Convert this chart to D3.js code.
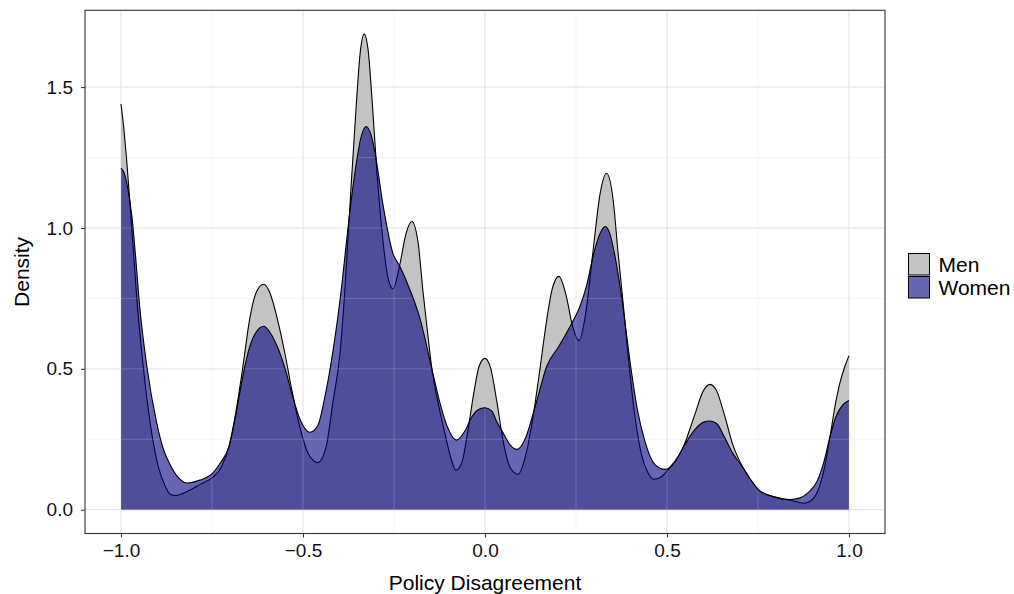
<!DOCTYPE html>
<html>
<head>
<meta charset="utf-8">
<script src="https://cdn.jsdelivr.net/npm/d3@7"></script>
<style>
  body { margin: 0; background: #fff; }
  svg { display: block; font-family: "Liberation Sans", Arial, Helvetica, sans-serif; }
</style>
</head>
<body>
<svg id="chart" width="1014" height="594"></svg>
<script>
// density estimates, policy disagreement on x
const menX = [-1.000, -0.992, -0.985, -0.975, -0.966, -0.957, -0.939, -0.920, -0.898, -0.879, -0.865, -0.850, -0.830, -0.810, -0.783, -0.748, -0.725, -0.703, -0.684, -0.666, -0.646, -0.629, -0.608, -0.591, -0.571, -0.549, -0.530, -0.508, -0.486, -0.459, -0.437, -0.418, -0.398, -0.385, -0.371, -0.354, -0.343, -0.332, -0.321, -0.310, -0.297, -0.280, -0.266, -0.253, -0.234, -0.217, -0.201, -0.184, -0.170, -0.157, -0.146, -0.129, -0.110, -0.093, -0.080, -0.063, -0.047, -0.030, -0.016, 0.000, 0.016, 0.033, 0.049, 0.069, 0.091, 0.113, 0.132, 0.151, 0.168, 0.184, 0.203, 0.223, 0.239, 0.258, 0.277, 0.297, 0.316, 0.334, 0.352, 0.365, 0.379, 0.393, 0.412, 0.431, 0.448, 0.464, 0.481, 0.508, 0.544, 0.577, 0.599, 0.618, 0.637, 0.657, 0.681, 0.709, 0.728, 0.755, 0.802, 0.846, 0.874, 0.893, 0.912, 0.931, 0.948, 0.962, 0.975, 0.989, 1.000];
const menY = [1.44, 1.35, 1.25, 1.08, 0.92, 0.757, 0.509, 0.309, 0.155, 0.085, 0.055, 0.05, 0.058, 0.07, 0.09, 0.115, 0.15, 0.226, 0.35, 0.50, 0.68, 0.77, 0.80, 0.77, 0.68, 0.55, 0.42, 0.29, 0.20, 0.167, 0.22, 0.38, 0.56, 0.78, 1.08, 1.43, 1.62, 1.688, 1.63, 1.45, 1.20, 0.95, 0.82, 0.784, 0.87, 0.98, 1.023, 0.95, 0.77, 0.62, 0.50, 0.38, 0.27, 0.18, 0.14, 0.17, 0.28, 0.42, 0.51, 0.537, 0.50, 0.38, 0.25, 0.15, 0.126, 0.20, 0.33, 0.50, 0.66, 0.78, 0.828, 0.76, 0.66, 0.60, 0.70, 0.92, 1.12, 1.194, 1.10, 0.92, 0.74, 0.55, 0.33, 0.19, 0.13, 0.108, 0.114, 0.15, 0.22, 0.34, 0.42, 0.445, 0.42, 0.34, 0.23, 0.149, 0.11, 0.067, 0.043, 0.032, 0.023, 0.03, 0.06, 0.14, 0.26, 0.37, 0.45, 0.51, 0.547];

const womenX = [-1.000, -0.990, -0.980, -0.970, -0.960, -0.950, -0.929, -0.902, -0.885, -0.865, -0.843, -0.819, -0.783, -0.748, -0.725, -0.703, -0.684, -0.666, -0.646, -0.629, -0.608, -0.591, -0.571, -0.549, -0.530, -0.508, -0.481, -0.459, -0.440, -0.418, -0.394, -0.376, -0.357, -0.341, -0.327, -0.313, -0.302, -0.280, -0.253, -0.234, -0.206, -0.179, -0.146, -0.124, -0.102, -0.078, -0.055, -0.036, -0.019, 0.000, 0.019, 0.033, 0.047, 0.069, 0.088, 0.110, 0.137, 0.170, 0.203, 0.234, 0.261, 0.280, 0.297, 0.316, 0.330, 0.343, 0.357, 0.376, 0.398, 0.418, 0.440, 0.467, 0.495, 0.522, 0.544, 0.577, 0.599, 0.618, 0.637, 0.657, 0.681, 0.709, 0.728, 0.755, 0.802, 0.838, 0.865, 0.887, 0.912, 0.931, 0.948, 0.964, 0.984, 1.000];
const womenY = [1.212, 1.19, 1.13, 1.04, 0.90, 0.74, 0.509, 0.309, 0.22, 0.16, 0.115, 0.095, 0.105, 0.13, 0.17, 0.226, 0.34, 0.47, 0.58, 0.63, 0.651, 0.63, 0.58, 0.50, 0.41, 0.32, 0.275, 0.30, 0.40, 0.56, 0.79, 1.005, 1.20, 1.32, 1.36, 1.33, 1.266, 1.08, 0.91, 0.864, 0.78, 0.68, 0.50, 0.38, 0.29, 0.247, 0.28, 0.33, 0.355, 0.362, 0.35, 0.31, 0.279, 0.23, 0.214, 0.25, 0.362, 0.51, 0.58, 0.651, 0.722, 0.80, 0.90, 0.98, 1.005, 0.98, 0.90, 0.75, 0.53, 0.36, 0.24, 0.16, 0.143, 0.17, 0.22, 0.285, 0.31, 0.315, 0.305, 0.26, 0.20, 0.149, 0.11, 0.067, 0.043, 0.036, 0.042, 0.06, 0.10, 0.17, 0.26, 0.33, 0.374, 0.388];

const xTicks = [-1, -0.5, 0, 0.5, 1];
const xMinor = [-0.75, -0.25, 0.25, 0.75];
const yTicks = [0, 0.5, 1, 1.5];
const yMinor = [0.25, 0.75, 1.25];
const groups = ["Men", "Women"];

const svg = d3.select("#chart");

const panel = { left: 85, right: 885, top: 10.3, bottom: 533.5 };

const xScale = d3.scaleLinear()
  .domain([-1.1, 1.1])
  .range([84.6, 885.4]);

const yScale = d3.scaleLinear()
  .domain([-0.0844, 1.7724])
  .range([panel.bottom, panel.top]);

// grid
const grid = svg.append("g");
grid.selectAll(".minor-x").data(xMinor).enter().append("line")
  .attr("x1", d => xScale(d)).attr("x2", d => xScale(d))
  .attr("y1", panel.top).attr("y2", panel.bottom)
  .attr("stroke", "#f2f2f2").attr("stroke-width", 0.8);
grid.selectAll(".minor-y").data(yMinor).enter().append("line")
  .attr("y1", d => yScale(d)).attr("y2", d => yScale(d))
  .attr("x1", panel.left).attr("x2", panel.right)
  .attr("stroke", "#f2f2f2").attr("stroke-width", 0.8);
grid.selectAll(".major-x").data(xTicks).enter().append("line")
  .attr("x1", d => xScale(d)).attr("x2", d => xScale(d))
  .attr("y1", panel.top).attr("y2", panel.bottom)
  .attr("stroke", "#e6e6e6").attr("stroke-width", 1.3);
grid.selectAll(".major-y").data(yTicks).enter().append("line")
  .attr("y1", d => yScale(d)).attr("y2", d => yScale(d))
  .attr("x1", panel.left).attr("x2", panel.right)
  .attr("stroke", "#e6e6e6").attr("stroke-width", 1.3);

const menData = menX.map((x, i) => [x, menY[i]]);
const womenData = womenX.map((x, i) => [x, womenY[i]]);

const area = d3.area()
  .x(d => xScale(d[0]))
  .y0(yScale(0))
  .y1(d => yScale(d[1]))
  .curve(d3.curveMonotoneX);

const line = d3.line()
  .x(d => xScale(d[0]))
  .y(d => yScale(d[1]))
  .curve(d3.curveMonotoneX);

// men
svg.append("path")
  .attr("d", area(menData))
  .attr("fill", "#c3c3c3");
svg.append("path")
  .attr("d", line(menData))
  .attr("fill", "none")
  .attr("stroke", "#000")
  .attr("stroke-width", 1.1);

// women
svg.append("clipPath").attr("id", "wclip")
  .append("path").attr("d", area(womenData));

svg.append("path")
  .attr("d", area(womenData))
  .attr("fill", "navy")
  .attr("fill-opacity", 0.6);

// faint grid showing through the women area
const ghost = svg.append("g").attr("clip-path", "url(#wclip)");
ghost.selectAll(".gx").data(xTicks.concat(xMinor)).enter().append("line")
  .attr("x1", d => xScale(d)).attr("x2", d => xScale(d))
  .attr("y1", panel.top).attr("y2", panel.bottom)
  .attr("stroke", "#fff").attr("stroke-opacity", 0.18).attr("stroke-width", 1);
ghost.selectAll(".gy").data(yTicks.concat(yMinor)).enter().append("line")
  .attr("y1", d => yScale(d)).attr("y2", d => yScale(d))
  .attr("x1", panel.left).attr("x2", panel.right)
  .attr("stroke", "#fff").attr("stroke-opacity", 0.18).attr("stroke-width", 1);

svg.append("path")
  .attr("d", line(womenData))
  .attr("fill", "none")
  .attr("stroke", "#000")
  .attr("stroke-width", 1.1);

// panel border
svg.append("rect")
  .attr("x", panel.left).attr("y", panel.top)
  .attr("width", panel.right - panel.left)
  .attr("height", panel.bottom - panel.top)
  .attr("fill", "none")
  .attr("stroke", "#333")
  .attr("stroke-width", 1.1);

// axes
const xAxis = d3.axisBottom(xScale)
  .tickValues(xTicks)
  .tickFormat(d3.format(".1f"))
  .tickSize(4)
  .tickSizeOuter(0)
  .tickPadding(6);

const yAxis = d3.axisLeft(yScale)
  .tickValues(yTicks)
  .tickFormat(d3.format(".1f"))
  .tickSize(4)
  .tickSizeOuter(0)
  .tickPadding(8);

const gx = svg.append("g")
  .attr("transform", `translate(0, ${panel.bottom})`)
  .call(xAxis);
const gy = svg.append("g")
  .attr("transform", `translate(${panel.left}, 0)`)
  .call(yAxis);

[gx, gy].forEach(g => {
  g.select(".domain").remove();
  g.selectAll(".tick line").attr("stroke", "#333").attr("stroke-width", 1.1);
  g.selectAll(".tick text")
    .attr("fill", "#111")
    .style("font-size", "19px")
    .style("font-family", "'Liberation Sans', Arial, sans-serif");
});

svg.append("text")
  .attr("x", (panel.left + panel.right) / 2)
  .attr("y", 590)
  .attr("text-anchor", "middle")
  .attr("fill", "#000")
  .style("font-size", "21px")
  .text("Policy Disagreement");

svg.append("text")
  .attr("transform", `translate(29, ${(panel.top + panel.bottom) / 2}) rotate(-90)`)
  .attr("text-anchor", "middle")
  .attr("fill", "#000")
  .style("font-size", "21px")
  .text("Density");

// legend
const legendFill = { Men: "#c3c3c3", Women: "#6666b3" };
const legend = svg.append("g").attr("transform", "translate(908.5, 253.5)");
legend.selectAll("rect").data(groups).enter().append("rect")
  .attr("x", 0)
  .attr("y", (d, i) => i * 23)
  .attr("width", 21)
  .attr("height", 21.5)
  .attr("fill", d => legendFill[d])
  .attr("stroke", "#000")
  .attr("stroke-width", 1);
legend.selectAll("text").data(groups).enter().append("text")
  .attr("x", 30)
  .attr("y", (d, i) => i * 23 + 18)
  .attr("fill", "#000")
  .style("font-size", "21px")
  .text(d => d);
</script>
</body>
</html>
